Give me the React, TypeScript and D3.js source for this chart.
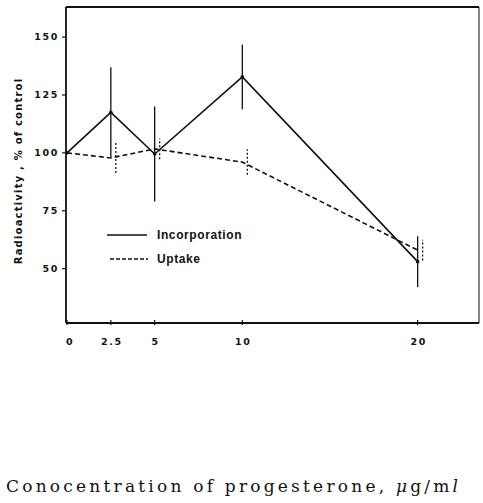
import { useMemo } from 'react'
import * as d3 from 'd3'

const WIDTH = 483
const HEIGHT = 503
const FRAME = { left: 66, top: 7, right: 479, bottom: 323 }

// concentration of progesterone (µg/ml)
const CONC = [0, 2.5, 5, 10, 20]
const INCORPORATION = [100, 117.5, 99.5, 132.8, 53]
const INCORPORATION_ERR = [0, 19.5, 20.5, 14, 11]
const UPTAKE = [100, 97.8, 101.7, 96, 58]
const UPTAKE_ERR = [0, 6.5, 4.5, 5.5, 4.5]

const X_TICKS = [0, 2.5, 5, 10, 20]
const X_TICK_LABELS = ['0', '2.5', '5', '10', '20']
const Y_TICKS = [50, 75, 100, 125, 150]

const LEGEND = ['Incorporation', 'Uptake']

export default function App() {
  const x = useMemo(() => d3.scaleLinear().domain([0, 23.5]).range([FRAME.left + 1, FRAME.right]), [])
  const y = useMemo(() => d3.scaleLinear().domain([26.5, 163]).range([FRAME.bottom, FRAME.top]), [])

  const line = d3.line<number>()
    .x((_, i) => x(CONC[i]))
    .y(d => y(d))

  const tickFont = { fontFamily: 'DejaVu Sans, sans-serif', fontWeight: 700, fontSize: 9.5, letterSpacing: 1.6 }

  return (
    <svg width={WIDTH} height={HEIGHT} style={{ position: 'absolute', left: 0, top: 0, background: '#fff' }}>
      {/* frame */}
      <g stroke="#111" fill="none">
        <line x1={FRAME.left} x2={FRAME.right} y1={FRAME.top} y2={FRAME.top} strokeWidth={2.2} />
        <line x1={FRAME.left} x2={FRAME.left} y1={FRAME.top} y2={FRAME.bottom} strokeWidth={1.8} />
        <line x1={FRAME.left} x2={FRAME.right} y1={FRAME.bottom} y2={FRAME.bottom} strokeWidth={1.8} />
        <line x1={FRAME.right} x2={FRAME.right} y1={FRAME.top} y2={FRAME.bottom} strokeWidth={1} />
      </g>

      {/* y axis ticks */}
      {Y_TICKS.map(t => (
        <g key={`y-${t}`} transform={`translate(${FRAME.left}, ${y(t)})`}>
          <line x1={-4} x2={0} stroke="#111" strokeWidth={1.2} />
          <text x={-7} dy="0.35em" textAnchor="end" fill="#111" style={tickFont}>{t}</text>
        </g>
      ))}

      {/* x axis ticks */}
      {X_TICKS.map((t, i) => (
        <g key={`x-${t}`} transform={`translate(${x(t)}, ${FRAME.bottom})`}>
          <line y1={-3} y2={2} stroke="#111" strokeWidth={1.2} />
          <text x={i === 0 ? 3 : 1} y={22} textAnchor="middle" fill="#111" style={tickFont}>{X_TICK_LABELS[i]}</text>
        </g>
      ))}

      {/* y axis label */}
      <text
        transform={`translate(22, ${(FRAME.top + FRAME.bottom) / 2 + 6}) rotate(-90)`}
        textAnchor="middle"
        fill="#111"
        style={{ fontFamily: 'DejaVu Sans, sans-serif', fontWeight: 700, fontSize: 10, letterSpacing: 1.2 }}
      >
        Radioactivity , % of control
      </text>

      {/* incorporation */}
      <path d={line(INCORPORATION) ?? ''} fill="none" stroke="#111" strokeWidth={1.6} />
      {INCORPORATION.map((v, i) => (
        <g key={`inc-${i}`}>
          {INCORPORATION_ERR[i] > 0 && (
            <line x1={x(CONC[i])} x2={x(CONC[i])} y1={y(v - INCORPORATION_ERR[i])} y2={y(v + INCORPORATION_ERR[i])}
              stroke="#111" strokeWidth={1.3} />
          )}
          <circle cx={x(CONC[i])} cy={y(v)} r={1.8} fill="#111" />
        </g>
      ))}

      {/* uptake */}
      <path d={line(UPTAKE) ?? ''} fill="none" stroke="#111" strokeWidth={1.6} strokeDasharray="5,3" />
      {UPTAKE.map((v, i) => (
        UPTAKE_ERR[i] > 0 && (
          <line key={`up-${i}`} x1={x(CONC[i]) + 5} x2={x(CONC[i]) + 5} y1={y(v - UPTAKE_ERR[i])} y2={y(v + UPTAKE_ERR[i])}
            stroke="#111" strokeWidth={1.3} strokeDasharray="2,2" />
        )
      ))}

      {/* legend */}
      <g>
        <line x1={107} x2={147} y1={235} y2={235} stroke="#111" strokeWidth={1.4} />
        <line x1={110} x2={148} y1={259} y2={259} stroke="#111" strokeWidth={1.4} strokeDasharray="4,2" />
        {LEGEND.map((l, i) => (
          <text key={l} x={157} y={235 + i * 24} dy="0.35em" fill="#111"
            style={{ fontFamily: 'Liberation Sans, Arial, sans-serif', fontSize: 12, fontWeight: 700, letterSpacing: 0.6 }}>
            {l}
          </text>
        ))}
      </g>

      {/* caption */}
      <text x={6} y={492} fill="#111" textLength={452} lengthAdjust="spacing"
        style={{ fontFamily: 'DejaVu Serif, Liberation Serif, serif', fontSize: 17 }}>
        Conocentration of progesterone, <tspan fontStyle="italic">μ</tspan>g/m<tspan fontStyle="italic">l</tspan>
      </text>
    </svg>
  )
}
